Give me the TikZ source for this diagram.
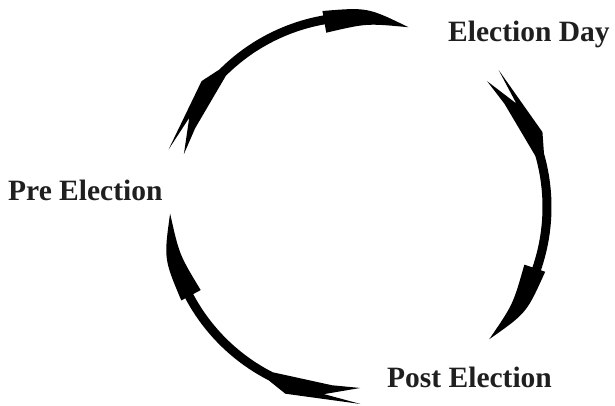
\documentclass[tikz,border=0pt]{standalone}
\usepackage{fontspec}
\setmainfont{Liberation Serif}

% one tapered arrow on the cycle, #1 = angle of its forked tail
\newcommand{\sweep}[1]{%
  \fill ({#1}:197) -- ({#1-22}:200) -- ({#1-28}:194.5)
    arc[start angle=#1-28, end angle=#1-63, radius=194.5]
    -- ({#1-63}:199) .. controls ({#1-76}:200) .. ({#1-89}:187)
    .. controls ({#1-76}:184) .. ({#1-63}:177)
    -- ({#1-63}:185.5)
    arc[start angle=#1-63, end angle=#1-28, radius=185.5]
    -- ({#1-9}:180) -- ({#1}:181) -- ({#1-11}:190) -- cycle;}

\begin{document}
\begin{tikzpicture}[x=1pt,y=1pt,
  phase/.style={anchor=base west,inner sep=0pt,text=black!88,
    font=\fontsize{29.5}{32}\selectfont\bfseries}]

  \useasboundingbox (-357,-198) rectangle (258,207);

  \sweep{163}
  \sweep{44}
  \sweep{271}

  \node[phase] (D) at (91,166) {Election Day};
  \node[phase] (P) at (-349,7) {Pre Election};
  \node[phase] (Q) at (30,-180) {Post Election};

\end{tikzpicture}
\end{document}
